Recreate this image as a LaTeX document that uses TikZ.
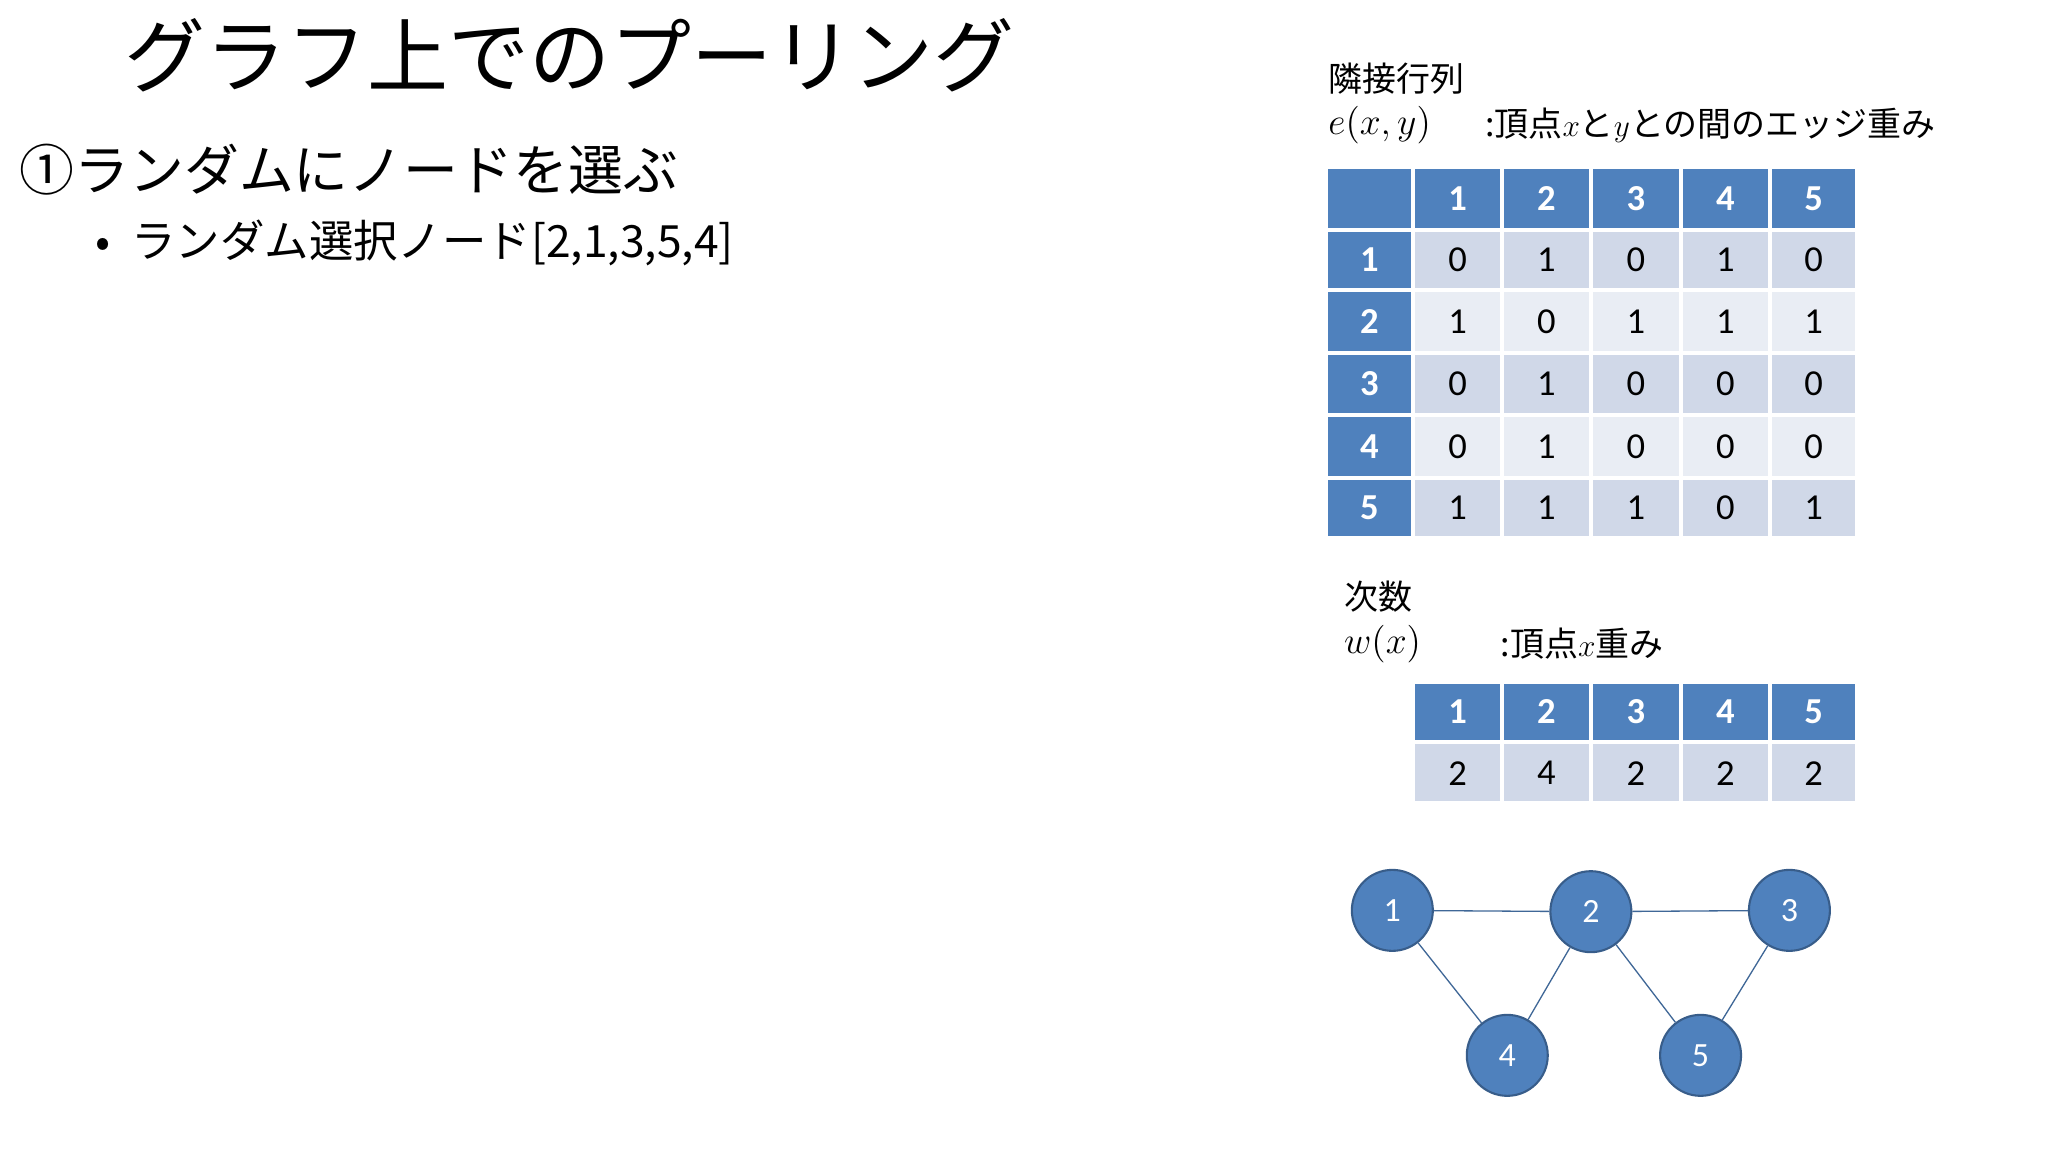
\documentclass[tikz,border=0pt]{standalone}
\usepackage{fontspec}
\setmainfont{Carlito}
\newfontfamily\jp{Noto Sans CJK JP}
\definecolor{hdr}{HTML}{4F81BD}
\definecolor{cdark}{HTML}{D0D8E8}
\definecolor{clight}{HTML}{E9EDF4}
\definecolor{nb}{HTML}{385D8A}
\begin{document}
\begin{tikzpicture}[x=0.5pt,y=-0.5pt,
  hcell/.style={fill=hdr,draw=white,line width=1.5pt},
  dcell/.style={fill=cdark,draw=white,line width=1.5pt},
  lcell/.style={fill=clight,draw=white,line width=1.5pt},
  htxt/.style={text=white,font=\fontsize{14}{14}\selectfont\bfseries},
  dtxt/.style={text=black,font=\fontsize{14}{14}\selectfont},
  gnode/.style={circle,fill=hdr,draw=nb,line width=0.8pt,minimum size=31pt,inner sep=0pt,text=white,font=\fontsize{13}{13}\selectfont},
  gedge/.style={draw=hdr!80!black,line width=0.5pt}]
\useasboundingbox (0,0) rectangle (1568,882);
\fill[white] (0,0) rectangle (1568,882);
\node[anchor=west,font=\jp\fontsize{31}{31}\selectfont] (title) at (88,42) {グラフ上でのプーリング};
\node[anchor=west,font=\jp\fontsize{21}{21}\selectfont] (l1) at (8,130) {①ランダムにノードを選ぶ};
\node[anchor=west,font=\jp\fontsize{17}{17}\selectfont] (l2) at (66,186) {•\hspace{8pt}ランダム選択ノード[2,1,3,5,4]};
\node[anchor=west,font=\jp\fontsize{13}{13}\selectfont] (t1) at (1010,60) {隣接行列};
\node[anchor=west,font=\fontsize{14}{14}\selectfont] (t2) at (1010,96) {$e(x,y)$};
\node[anchor=west,font=\jp\fontsize{13}{13}\selectfont] (t3) at (1130,96) {:頂点$x$と$y$との間のエッジ重み};
\node[anchor=west,font=\jp\fontsize{13}{13}\selectfont] (t4) at (1022,457) {次数};
\node[anchor=west,font=\fontsize{14}{14}\selectfont] (t5) at (1022,493) {$w(x)$};
\node[anchor=west,font=\jp\fontsize{13}{13}\selectfont] (t6) at (1142,493) {:頂点$x$重み};
% adjacency table
\def\xs{{1015,1082,1150,1218,1287,1355,1422}}
\def\ys{{128,176,222,270,318,366,412}}
\def\vals{{{0,1,0,1,0},{1,0,1,1,1},{0,1,0,0,0},{0,1,0,0,0},{1,1,1,0,1}}}
\foreach \r in {0,...,5}{
 \foreach \c in {0,...,5}{
  \pgfmathsetmacro\xa{\xs[\c]}\pgfmathsetmacro\xb{\xs[\c+1]}
  \pgfmathsetmacro\ya{\ys[\r]}\pgfmathsetmacro\yb{\ys[\r+1]}
  \ifnum\r=0 \path[hcell] (\xa,\ya) rectangle (\xb,\yb);
   \ifnum\c>0 \node[htxt] (h\c) at ({(\xa+\xb)/2},{(\ya+\yb)/2}) {\c};\fi
  \else\ifnum\c=0 \path[hcell] (\xa,\ya) rectangle (\xb,\yb);
   \node[htxt] (r\r) at ({(\xa+\xb)/2},{(\ya+\yb)/2}) {\r};
  \else
   \ifodd\r \path[dcell] (\xa,\ya) rectangle (\xb,\yb);\else\path[lcell] (\xa,\ya) rectangle (\xb,\yb);\fi
   \pgfmathtruncatemacro\v{\vals[\r-1][\c-1]}
   \node[dtxt] (a\r\c) at ({(\xa+\xb)/2},{(\ya+\yb)/2}) {\v};
  \fi\fi
 }}
% degree table
\def\ws{{2,4,2,2,2}}
\foreach \c in {1,...,5}{
  \pgfmathsetmacro\xa{\xs[\c]}\pgfmathsetmacro\xb{\xs[\c+1]}
  \path[hcell] (\xa,522) rectangle (\xb,568);
  \path[dcell] (\xa,568) rectangle (\xb,615);
  \node[htxt] (dh\c) at ({(\xa+\xb)/2},545) {\c};
  \pgfmathtruncatemacro\v{\ws[\c-1]}
  \node[dtxt] (dv\c) at ({(\xa+\xb)/2},592) {\v};
}
% graph
\node[gnode] (n1) at (1066,697) {1};
\node[gnode] (n2) at (1218,698) {2};
\node[gnode] (n3) at (1370,697) {3};
\node[gnode] (n4) at (1154,808) {4};
\node[gnode] (n5) at (1302,808) {5};
\draw[gedge] (n1)--(n2) (n2)--(n3) (n1)--(n4) (n2)--(n4) (n2)--(n5) (n3)--(n5);
\end{tikzpicture}
\end{document}
